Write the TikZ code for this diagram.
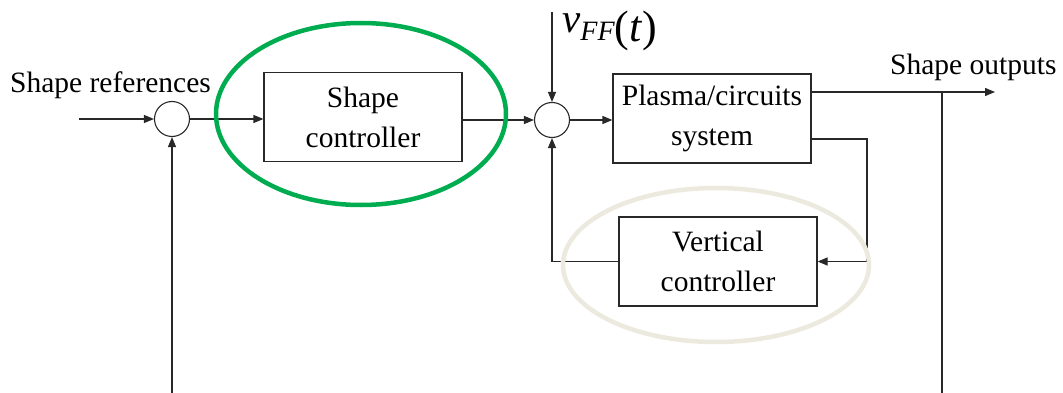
\documentclass[tikz,border=0pt]{standalone}
\usepackage{fontspec}
\setmainfont{Liberation Serif}
\usetikzlibrary{arrows.meta}
\definecolor{hlgreen}{RGB}{0,172,80}
\definecolor{hlbeige}{RGB}{236,233,223}
\definecolor{wire}{RGB}{40,40,40}
\begin{document}
\begin{tikzpicture}[x=1pt,y=-1pt,
  wirestyle/.style={draw=wire,line width=1.2pt},
  arr/.style={wirestyle,-{Triangle[length=10pt,width=8pt]}},
  blk/.style={draw=wire,line width=1.2pt,minimum width=198pt,minimum height=89pt,inner sep=0pt,align=center,font=\fontsize{29.5}{40}\selectfont},
  sumj/.style={draw=wire,line width=1.1pt,circle,minimum size=35pt,inner sep=0pt},
  lbl/.style={font=\fontsize{29.5}{36}\selectfont,inner sep=0pt},
  ring/.style={line width=4.5pt}]
\useasboundingbox (0,0) rectangle (1063,393);
% blocks
\node[blk] (sc) at (363,117) {Shape\\controller};
\node[blk] (pl) at (712,118.5) {Plasma/circuits\\system};
\node[blk] (vc) at (718,261.5) {Vertical\\controller};
% summing junctions
\node[sumj] (s1) at (172,119) {};
\node[sumj] (s2) at (552,120) {};
% labels
\node[lbl,anchor=base west] (tref) at (10,93) {Shape references};
\node[lbl,anchor=base west] (tout) at (890,75) {Shape outputs};
\node[inner sep=0pt,anchor=base west] (tvff) at (562,33)
  {\fontsize{41}{44}\selectfont\textit{v}\raisebox{-8pt}{\fontsize{28}{30}\selectfont\textit{FF}}\raisebox{-9pt}{\fontsize{44}{46}\selectfont(\textit{t})}};
% coordinates
\coordinate (rin) at (79,119);
\coordinate (vin) at (552,12);
\coordinate (oend) at (995,92);
\coordinate (tap) at (942,92);
\coordinate (c1) at (867,139);
\coordinate (fb1) at (172,393);
\coordinate (fb2) at (942,393);
% connectors
\draw[arr] (rin) -- (s1.west);
\draw[arr] (s1.east) -- (sc.west |- s1.east);
\draw[arr] (sc.east |- s2.west) -- (s2.west);
\draw[arr] (s2.east) -- (pl.west |- s2.east);
\draw[arr] (vin) -- (s2.north);
\draw[arr] (pl.east |- oend) -- (oend);
\draw[wirestyle] (tap) -- (fb2);
\draw[arr] (fb1) -- (s1.south);
\draw[arr] (pl.east |- c1) -- (c1) |- (vc.east);
\draw[arr] (vc.west) -| (s2.south);
% highlight ellipses
\draw[ring,hlgreen] (361,114) ellipse [x radius=145, y radius=91];
\draw[ring,hlbeige] (716,265) ellipse [x radius=153, y radius=77];
\end{tikzpicture}
\end{document}
